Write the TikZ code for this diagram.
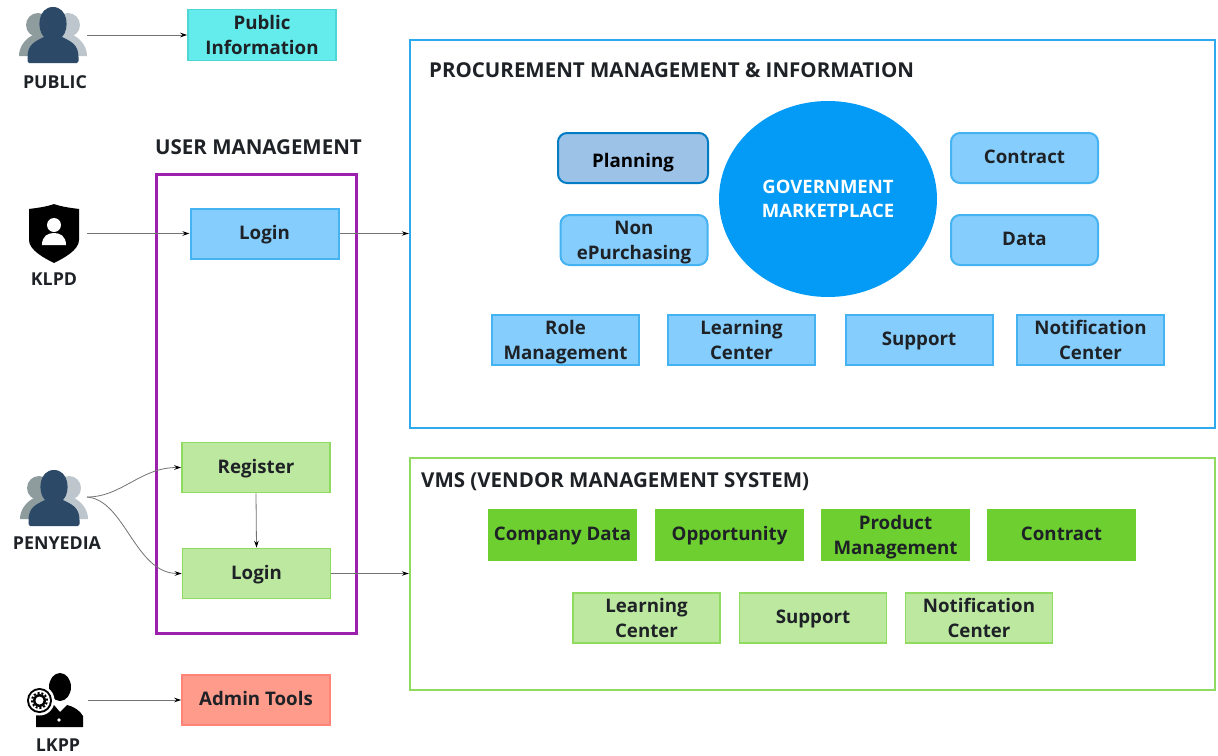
\documentclass[tikz,border=0pt]{standalone}
\usepackage{fontspec}
\setmainfont{Open Sans}
\usetikzlibrary{arrows.meta,shapes.geometric}

\definecolor{azul}{HTML}{85CDFC}
\definecolor{azulborde}{HTML}{45B2F2}
\definecolor{azulmarco}{HTML}{2FA9EE}
\definecolor{azulfuerte}{HTML}{039BF5}
\definecolor{azulplan}{HTML}{9CC2E8}
\definecolor{verde}{HTML}{BDE8A0}
\definecolor{verdeborde}{HTML}{8FDB5F}
\definecolor{verdefuerte}{HTML}{6DD030}
\definecolor{turquesa}{HTML}{64EBEB}
\definecolor{salmon}{HTML}{FF9B8A}
\definecolor{morado}{HTML}{9C1FAE}
\definecolor{tinta}{HTML}{1E2226}
\definecolor{frente}{HTML}{2C4A68}
\definecolor{atrasizq}{HTML}{8E9C9E}
\definecolor{atrasder}{HTML}{BDC6CC}

\newcommand{\twolines}[2]{\rule{0pt}{18pt}#1\\\smash{#2}\rule[-4pt]{0pt}{4pt}}

\tikzset{
  box/.style={draw, line width=1.5pt, minimum width=147pt, minimum height=50pt,
    align=center, inner sep=0pt, text=tinta, font=\fontsize{18.7}{25}\selectfont\bfseries},
  oneline/.style={text height=16pt, text depth=5pt},
  bluebox/.style={box, fill=azul, draw=azulborde, line width=2pt},
  roundbox/.style={bluebox, rounded corners=9pt},
  greenbox/.style={box, fill=verde, draw=verdeborde},
  darkbox/.style={box, fill=verdefuerte, draw=verdefuerte},
  frame/.style={draw, line width=2.4pt, inner sep=0pt, fill=none},
  title/.style={inner sep=0pt, text=tinta, font=\fontsize{20.5}{25}\selectfont\bfseries},
  who/.style={inner sep=0pt, text=tinta, font=\fontsize{17.8}{22}\selectfont\bfseries},
  link/.style={draw=black!55, line width=0.8pt, -{Stealth[length=7pt,width=4.5pt,black]}},
  people/.pic={
    \fill[atrasizq] (-15,-10) circle (12pt);
    \fill[atrasizq] (-34,21) .. controls (-34,12) and (-28,4) .. (-20,0) -- (0,0) -- (0,21) -- cycle;
    \fill[atrasder] (15,-10) circle (12pt);
    \fill[atrasder] (34,21) .. controls (34,12) and (28,4) .. (20,0) -- (0,0) -- (0,21) -- cycle;
    \fill[frente] (-24,28) .. controls (-26,28) and (-25.5,25) .. (-25.5,22)
      .. controls (-25.5,9) and (-17,6) .. (-9,2)
      .. controls (-17,-6) and (-15,-28) .. (0,-28)
      .. controls (15,-28) and (17,-6) .. (9,2)
      .. controls (17,6) and (25.5,9) .. (25.5,22)
      .. controls (25.5,25) and (26,28) .. (24,28) -- cycle;
  }
}

\begin{document}
\begin{tikzpicture}[x=1pt,y=-1pt]
\useasboundingbox[fill=white] (0,0) rectangle (1218,755);

% Marcos
\node[frame, draw=morado, minimum width=200pt, minimum height=459pt] (userframe) at (256.5,404) {};
\node[frame, draw=azulmarco, minimum width=805pt, minimum height=388pt] (procframe) at (812.5,234) {};
\node[frame, draw=verdeborde, minimum width=805pt, minimum height=232pt] (vmsframe) at (812.5,574) {};

% Titulos
\node[title] (usertitle) at (258.5,147) {USER MANAGEMENT};
\node[title, anchor=west] (proctitle) at (429,70) {PROCUREMENT MANAGEMENT \& INFORMATION};
\node[title, anchor=west] (vmstitle) at (421,482) {VMS (VENDOR MANAGEMENT SYSTEM)};

% Usuarios
\pic at (53,35) {people};
\node[who] (public) at (55,82) {PUBLIC};
\pic at (54,498) {people};
\node[who] (penyedia) at (57,543) {PENYEDIA};

% Escudo
\fill[black] (54,204) .. controls (62,207) and (72,208) .. (79,209) -- (79,240)
  .. controls (79,250) and (64,258) .. (54,263)
  .. controls (44,258) and (29,250) .. (29,240) -- (29,209)
  .. controls (36,208) and (46,207) .. (54,204) -- cycle;
\fill[white] (54,225) circle (7pt);
\fill[white] (42,245) .. controls (42,236) and (48,233) .. (54,233)
  .. controls (60,233) and (66,236) .. (66,245) -- cycle;
\node[who] (klpd) at (54,279) {KLPD};

% Admin con engranaje
\fill[black] (60,687) ellipse (11pt and 14pt);
\fill[black] (36,727) -- (36,716) .. controls (42,708) and (50,706) .. (54,705)
  -- (60,712) -- (67,705) .. controls (72,706) and (80,710) .. (83,716) -- (83,727) -- cycle;
\fill[white] (59,720) circle (1.8pt);
\fill[white] (39.5,700.5) circle (15pt);
\fill[black] (39.5,700.5) circle (12.5pt);
\fill[white] (39.5,700.5) circle (10.5pt);
\draw[black, line width=2pt, dash pattern=on 2pt off 1.9pt] (39.5,700.5) circle (7.5pt);
\fill[black] (39.5,700.5) circle (6.5pt);
\fill[white] (39.5,700.5) circle (4pt);
\node[who] (lkpp) at (58,745) {LKPP};

% Salidas de los usuarios
\coordinate (publicout) at (87,35);
\coordinate (klpdout) at (87,233.5);
\coordinate (penyediaout) at (87,497);
\coordinate (lkppout) at (88,700);

% Cajas de la izquierda
\node[box, fill=turquesa, draw=turquesa!80!teal, minimum width=148pt, minimum height=51pt] (publicinfo) at (262,35) {\twolines{Public}{Information}};
\node[bluebox, oneline, minimum width=148pt] (loginklpd) at (264.5,233.5) {Login};
\node[greenbox, oneline, minimum width=148pt] (register) at (256,467.5) {Register};
\node[greenbox, oneline, minimum width=148pt] (loginpenyedia) at (256.5,573.5) {Login};
\node[box, oneline, fill=salmon, draw=salmon!85!red, minimum width=148pt] (admintools) at (256,700) {Admin Tools};

% Mercado
\node[ellipse, fill=azulfuerte, minimum width=218pt, minimum height=196pt, inner sep=0pt,
  align=center, text=white, font=\fontsize{18.5}{25}\selectfont\bfseries] (marketplace) at (828,199) {GOVERNMENT\\[-1pt]MARKETPLACE};

% Cajas de compras
\node[roundbox, fill=azulplan, draw=azulfuerte!80!black, minimum width=150pt, text=black, text height=22pt, text depth=4pt] (planning) at (633,158) {Planning};
\node[roundbox] (nonpurchasing) at (634,240) {\twolines{Non}{ePurchasing}};
\node[roundbox, oneline] (contractproc) at (1024.5,158) {Contract};
\node[roundbox, oneline] (data) at (1024.5,240) {Data};
\node[bluebox] (role) at (565.5,340) {\twolines{Role}{Management}};
\node[bluebox] (learningproc) at (741.5,340) {\twolines{Learning}{Center}};
\node[bluebox, oneline] (supportproc) at (919,340) {Support};
\node[bluebox] (notificationproc) at (1090.5,340) {\twolines{Notification}{Center}};

% Cajas de proveedores
\node[darkbox, oneline] (company) at (562.5,535) {Company Data};
\node[darkbox, oneline] (opportunity) at (729.5,535) {Opportunity};
\node[darkbox] (product) at (895.5,535) {\twolines{Product}{Management}};
\node[darkbox, oneline] (contractvms) at (1061.5,535) {Contract};
\node[greenbox] (learningvms) at (646.5,618) {\twolines{Learning}{Center}};
\node[greenbox, oneline] (supportvms) at (813,618) {Support};
\node[greenbox] (notificationvms) at (979,618) {\twolines{Notification}{Center}};

% Flechas
\draw[link] (publicout) -- (publicinfo.west);
\draw[link] (klpdout) -- (loginklpd.west);
\draw[link] (loginklpd.east) -- (loginklpd.east -| procframe.west);
\draw[link] (penyediaout) .. controls (122,497) and (140,467.5) .. (register.west);
\draw[link] (penyediaout) .. controls (125,500) and (135,573.5) .. (loginpenyedia.west);
\draw[link] (register.south) -- (loginpenyedia.north);
\draw[link] (loginpenyedia.east) -- (loginpenyedia.east -| vmsframe.west);
\draw[link] (lkppout) -- (admintools.west);

\end{tikzpicture}
\end{document}
